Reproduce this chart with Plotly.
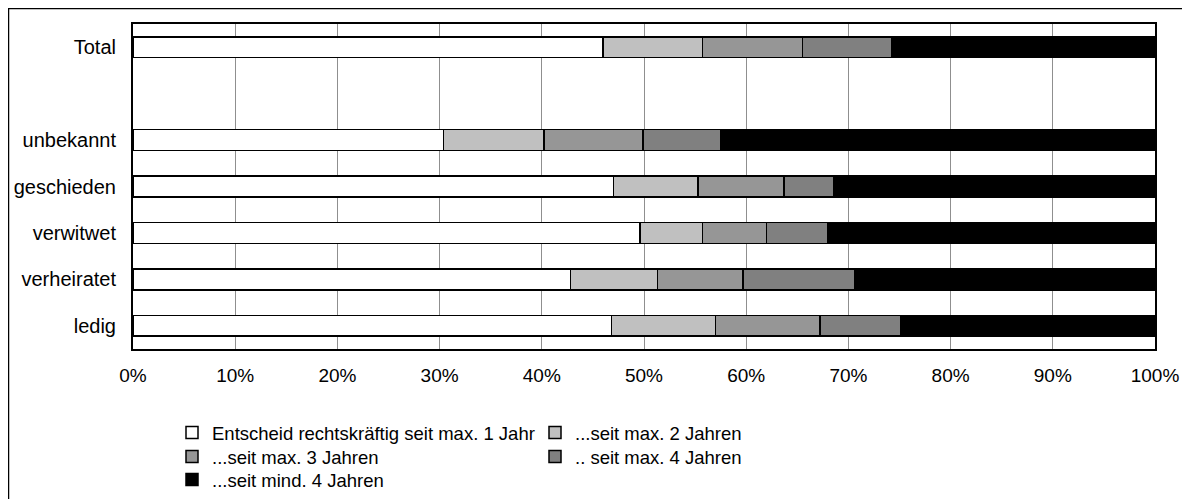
import plotly.graph_objects as go

# ---- data (percent shares) ----
categories = ["ledig", "verheiratet", "verwitwet", "geschieden", "unbekannt", "Total"]
axis_order = ["ledig", "verheiratet", "verwitwet", "geschieden", "unbekannt", " ", "Total"]

series_names = [
    "Entscheid rechtskräftig seit max. 1 Jahr",
    "...seit max. 2 Jahren",
    "...seit max. 3 Jahren",
    ".. seit max. 4 Jahren",
    "...seit mind. 4 Jahren",
]
max1 = [46.8, 42.8, 49.6, 47.0, 30.4, 46.0]
max2 = [10.2, 8.5, 6.1, 8.3, 9.8, 9.7]
max3 = [10.2, 8.4, 6.3, 8.4, 9.7, 9.8]
max4 = [7.9, 10.9, 6.0, 4.9, 7.6, 8.7]
mind4 = [24.9, 29.4, 32.0, 31.4, 42.5, 25.8]
series_values = [max1, max2, max3, max4, mind4]
series_colors = ["#FFFFFF", "#C0C0C0", "#969696", "#808080", "#000000"]
legend_rows = ["legend", "legend", "legend2", "legend2", "legend3"]

x_tickvals = [0, 10, 20, 30, 40, 50, 60, 70, 80, 90, 100]
x_ticktext = [f"{v}%" for v in x_tickvals]

# ---- layout geometry (page has an 8px body margin) ----
OFF = 8
W, H = 1190 - OFF, 499 - OFF
PX0, PX1, PY0, PY1 = 133, 1155, 24, 349          # plot box in page pixels
L, R = PX0 - OFF, W - (PX1 - OFF)
T, B = PY0 - OFF, H - (PY1 - OFF)
PW, PH = W - L - R, H - T - B
FONT = "Liberation Sans, Arial, sans-serif"

def px_x(page_x):
    return (page_x - OFF - L) / PW

def px_y(page_y):
    return (H - B - (page_y - OFF)) / PH

fig = go.Figure()
for name, vals, col, lg in zip(series_names, series_values, series_colors, legend_rows):
    fig.add_trace(go.Bar(
        y=categories, x=vals, name=name, orientation="h", legend=lg,
        marker=dict(color=col, line=dict(color="#000000", width=1.5)),
    ))

def legend_row(top_page):
    return dict(
        orientation="h", x=px_x(172), xanchor="left", y=px_y(top_page), yanchor="top",
        entrywidth=318, entrywidthmode="pixels", traceorder="normal",
        font=dict(size=18.5, family=FONT, color="#000000"), bgcolor="rgba(0,0,0,0)",
    )

fig.update_layout(
    width=W, height=H,
    margin=dict(l=L, r=R, t=T, b=B, autoexpand=False),
    barmode="stack", bargap=0.55,
    plot_bgcolor="white", paper_bgcolor="white",
    font=dict(family=FONT, size=19, color="#000000"),
    xaxis=dict(
        range=[0, 100], tickvals=x_tickvals, ticktext=x_ticktext,
        showgrid=True, gridcolor="#8f8f8f", gridwidth=1,
        showline=True, linecolor="#000000", linewidth=2, mirror=True,
        ticks="", ticklabelstandoff=8, zeroline=False, automargin=False,
        tickfont=dict(size=19),
    ),
    yaxis=dict(
        categoryorder="array", categoryarray=axis_order, range=[-0.5, 6.5],
        showgrid=False, showline=True, linecolor="#000000", linewidth=2, mirror=True,
        ticks="", ticklabelstandoff=11, tickfont=dict(size=20), automargin=False,
    ),
    legend=legend_row(414),
    legend2=legend_row(438),
    legend3=legend_row(461),
    shapes=[
        dict(type="line", xref="paper", yref="paper",
             x0=px_x(8.5), x1=px_x(8.5), y0=px_y(8), y1=px_y(499),
             line=dict(color="#000000", width=1.5)),
        dict(type="line", xref="paper", yref="paper",
             x0=px_x(8), x1=px_x(1190), y0=px_y(8.5), y1=px_y(8.5),
             line=dict(color="#000000", width=1.5)),
    ],
)

fig.write_html("out.html")
